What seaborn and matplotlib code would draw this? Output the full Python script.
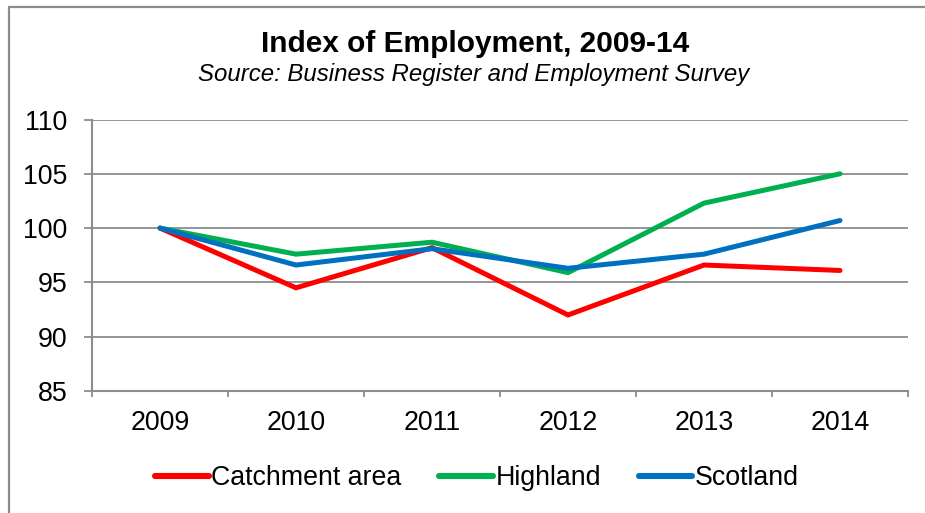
import matplotlib
matplotlib.use("Agg")
import matplotlib.pyplot as plt
from matplotlib.lines import Line2D
from matplotlib.ticker import FixedLocator, NullFormatter
import seaborn as sns
import pandas as pd

# Index of employment (2009 = 100)
years = [2009, 2010, 2011, 2012, 2013, 2014]
catchment = [100.0, 94.5, 98.2, 92.0, 96.6, 96.1]
highland = [100.0, 97.6, 98.7, 95.9, 102.3, 105.0]
scotland = [100.0, 96.6, 98.1, 96.3, 97.6, 100.7]
series_names = ["Catchment area", "Highland", "Scotland"]
colors = ["#FF0000", "#00B050", "#0070C0"]
y_ticks = [85, 90, 95, 100, 105, 110]

df = pd.DataFrame({
    "year": years * 3,
    "index": catchment + highland + scotland,
    "series": [s for s in series_names for _ in years],
})

sns.set_theme(style="white")
plt.rcParams["font.family"] = ["Liberation Sans", "DejaVu Sans"]
plt.rcParams["text.color"] = "black"
plt.rcParams["xtick.color"] = "black"
plt.rcParams["ytick.color"] = "black"

fig = plt.figure(figsize=(9.25, 5.13), dpi=100)
ax = fig.add_axes([92 / 925, 1 - 391 / 513, (908 - 92) / 925, (391 - 119.5) / 513])

sns.lineplot(data=df, x="year", y="index", hue="series", hue_order=series_names,
             palette=colors, linewidth=3.6, ax=ax, legend=True,
             solid_capstyle="round", solid_joinstyle="miter")

grid_c = "#8C8C8C"
tick_fs = 19.3
ax.set_ylim(85, 110)
ax.set_yticks(y_ticks)
ax.set_xlim(years[0] - 0.5, years[-1] + 0.5)
ax.yaxis.grid(True, color=grid_c, linewidth=1.3)
ax.set_axisbelow(True)

# category boundaries carry the tick marks; labels sit at the centres
ax.xaxis.set_major_locator(FixedLocator([y - 0.5 for y in years] + [years[-1] + 0.5]))
ax.xaxis.set_major_formatter(NullFormatter())
ax.xaxis.set_minor_locator(FixedLocator(years))
ax.set_xticklabels([str(y) for y in years], minor=True)
ax.tick_params(axis="x", which="major", length=4, width=1.3, color=grid_c, direction="out", bottom=True)
ax.tick_params(axis="x", which="minor", length=0, pad=14, labelsize=tick_fs, labelcolor="black")
ax.tick_params(axis="y", length=5.5, width=1.3, color=grid_c, direction="out", left=True,
               pad=12, labelsize=tick_fs, labelcolor="black")

for side in ["top", "right"]:
    ax.spines[side].set_visible(False)
for side in ["left", "bottom"]:
    ax.spines[side].set_color(grid_c)
    ax.spines[side].set_linewidth(1.5)
ax.set_xlabel("")
ax.set_ylabel("")

handles, labels = ax.get_legend_handles_labels()
for h in handles:
    h.set_linewidth(4.4)
    h.set_solid_capstyle("round")
leg = ax.legend(handles, labels, loc="center", bbox_to_anchor=(477 / 925, 1 - 478 / 513),
                bbox_transform=fig.transFigure, ncol=3, frameon=False, fontsize=tick_fs,
                handlelength=2.0, handletextpad=0.1, columnspacing=1.4)
for t in leg.get_texts():
    t.set_color("black")

fig.text(475 / 925, 1 - 44 / 513, "Index of Employment, 2009-14", ha="center", va="center",
         fontsize=21.5, fontweight="bold", color="black")
fig.text(474 / 925, 1 - 75 / 513, "Source: Business Register and Employment Survey",
         ha="center", va="center", fontsize=17.3, style="italic", color="black")

# chart frame (left and top edges)
fig.add_artist(Line2D([8.5 / 925, 8.5 / 925], [0, 1 - 6.5 / 513], transform=fig.transFigure,
                      color="#8C8C8C", linewidth=1.6))
fig.add_artist(Line2D([8.5 / 925, 1], [1 - 6.5 / 513, 1 - 6.5 / 513], transform=fig.transFigure,
                      color="#8C8C8C", linewidth=1.6))

fig.savefig("out.png", dpi=100)
